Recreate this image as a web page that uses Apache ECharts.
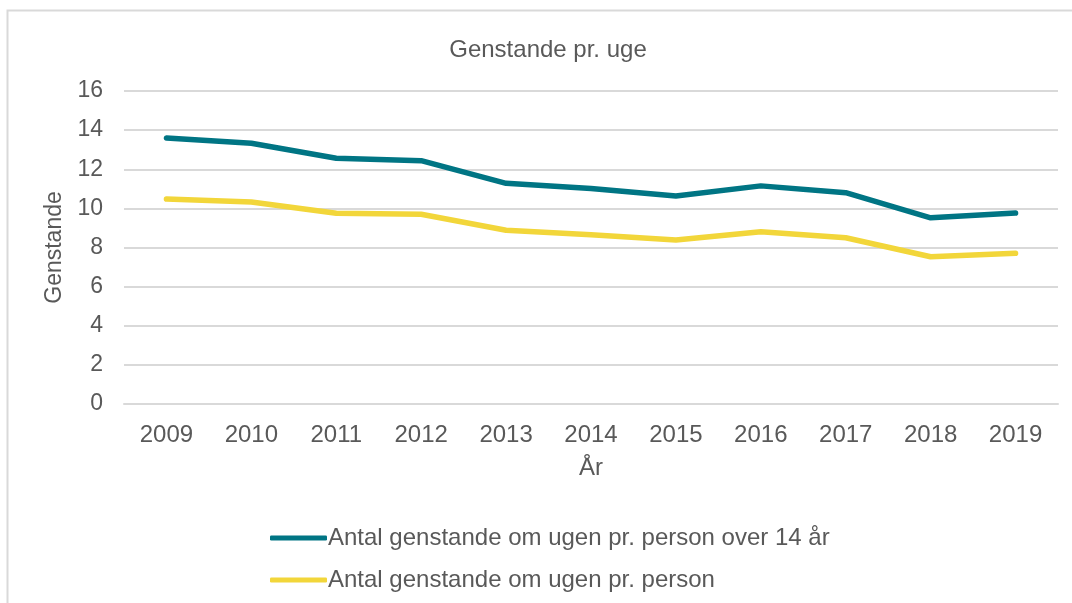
<!DOCTYPE html>
<html>
<head>
<meta charset="utf-8">
<script src="https://cdn.jsdelivr.net/npm/echarts@6/dist/echarts.min.js"></script>
<style>
  html, body { margin: 0; padding: 0; background: #ffffff; }
  #chart { width: 1072px; height: 603px; }
</style>
</head>
<body>
<div id="chart"></div>
<script>
// Weekly items per person, 2009–2019
const years = ['2009', '2010', '2011', '2012', '2013', '2014', '2015', '2016', '2017', '2018', '2019'];
const over14 = [13.6, 13.33, 12.56, 12.44, 11.28, 11.02, 10.63, 11.15, 10.8, 9.52, 9.76];
const perPerson = [10.48, 10.33, 9.75, 9.7, 8.88, 8.65, 8.38, 8.81, 8.5, 7.53, 7.7];
const seriesNames = ['Antal genstande om ugen pr. person over 14 år', 'Antal genstande om ugen pr. person'];

const FONT = '"Liberation Sans", Arial, sans-serif';
const TEXT = '#595959';

const chart = echarts.init(document.getElementById('chart'), null, { renderer: 'canvas' });
chart.setOption({
  animation: false,
  backgroundColor: '#ffffff',
  title: {
    text: 'Genstande pr. uge',
    left: 543,
    textAlign: 'center',
    top: 33,
    textStyle: { fontFamily: FONT, fontSize: 24, fontWeight: 'normal', color: TEXT }
  },
  graphic: [{
    type: 'rect',
    shape: { x: 7.5, y: 10.5, width: 1080, height: 620 },
    style: { fill: 'none', stroke: '#d9d9d9', lineWidth: 2 },
    silent: true,
    z: -1
  }],
  grid: { left: 124, right: 14, top: 91, bottom: 199 },
  legend: {
    orient: 'vertical',
    left: 265,
    top: 521,
    itemGap: 18,
    itemWidth: 57,
    itemHeight: 5,
    icon: 'roundRect',
    textStyle: { fontFamily: FONT, fontSize: 24, color: TEXT, padding: [0, 0, 0, -4] },
    data: seriesNames
  },
  xAxis: {
    type: 'category',
    data: years,
    boundaryGap: true,
    name: 'År',
    nameLocation: 'middle',
    nameGap: 52,
    nameTextStyle: { fontFamily: FONT, fontSize: 24, color: TEXT },
    axisLine: { show: true, lineStyle: { color: '#d9d9d9', width: 2 } },
    axisTick: { show: false },
    axisLabel: { fontFamily: FONT, fontSize: 24, color: TEXT, margin: 19 }
  },
  yAxis: {
    type: 'value',
    min: 0,
    max: 16,
    interval: 2,
    name: 'Genstande',
    nameLocation: 'middle',
    nameRotate: 90,
    nameGap: 55,
    nameTextStyle: { fontFamily: FONT, fontSize: 23, color: TEXT },
    axisLine: { show: false },
    axisTick: { show: false },
    axisLabel: { fontFamily: FONT, fontSize: 23, color: TEXT, margin: 21 },
    splitLine: { lineStyle: { color: '#d9d9d9', width: 2 } }
  },
  series: [
    {
      name: seriesNames[0],
      type: 'line',
      data: over14,
      symbol: 'none',
      color: '#007584',
      lineStyle: { width: 5.5, color: '#007584', cap: 'round', join: 'round' }
    },
    {
      name: seriesNames[1],
      type: 'line',
      data: perPerson,
      symbol: 'none',
      color: '#f2d63a',
      lineStyle: { width: 5.5, color: '#f2d63a', cap: 'round', join: 'round' }
    }
  ]
});
</script>
</body>
</html>
